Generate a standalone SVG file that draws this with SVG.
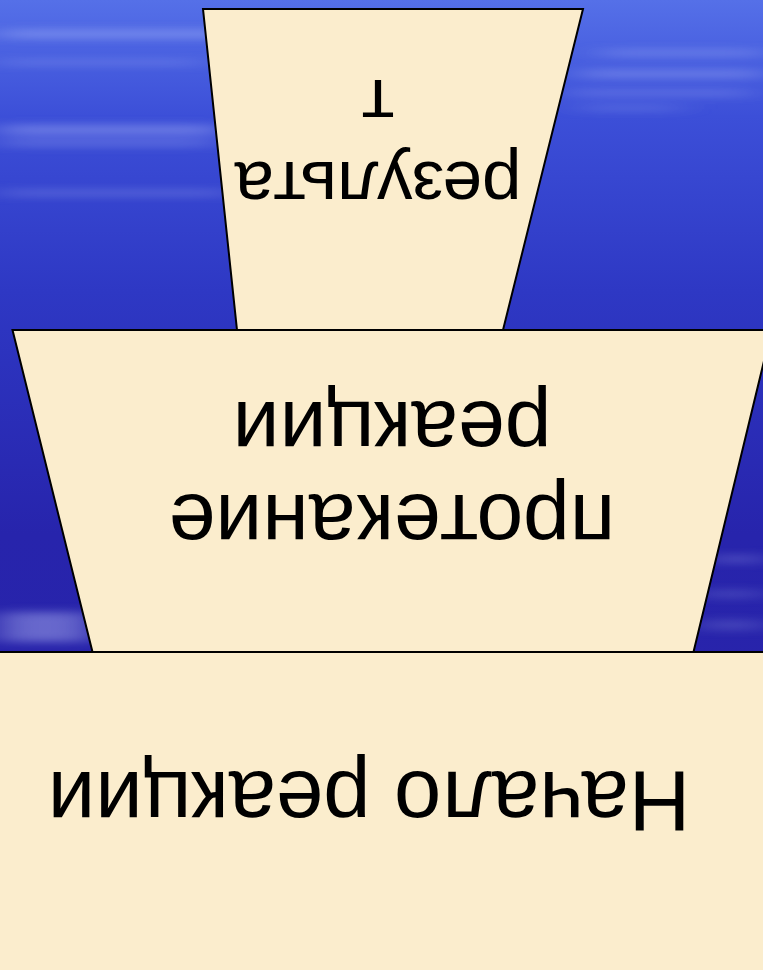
<svg xmlns="http://www.w3.org/2000/svg" width="763" height="970" viewBox="0 0 763 970">
<style>
.sh{fill:#FBEDCD;stroke:#000;stroke-width:2;stroke-linejoin:miter}
.t{font-family:"Liberation Sans",Arial,sans-serif;fill:#000;text-anchor:middle}
</style>
<defs>
<linearGradient id="bg" x1="0" y1="0" x2="0" y2="1">
<stop offset="0" stop-color="#5570e8"/>
<stop offset="0.12" stop-color="#3c4fd8"/>
<stop offset="0.3" stop-color="#2e38c4"/>
<stop offset="0.55" stop-color="#2724ac"/>
<stop offset="1" stop-color="#2a22a8"/>
</linearGradient>
<filter id="blur" x="-30%" y="-300%" width="160%" height="700%"><feGaussianBlur stdDeviation="18 4"/></filter>
</defs>
<rect x="0" y="0" width="763" height="970" fill="url(#bg)"/>
<g filter="url(#blur)" fill="#c8d0ff">
<rect x="0" y="30" width="360" height="8" opacity="0.35"/>
<rect x="600" y="50" width="163" height="6" opacity="0.3"/>
<rect x="0" y="60" width="200" height="5" opacity="0.25"/>
<rect x="580" y="70" width="183" height="8" opacity="0.3"/>
<rect x="0" y="125" width="220" height="10" opacity="0.35"/>
<rect x="0" y="140" width="215" height="6" opacity="0.3"/>
<rect x="570" y="90" width="180" height="6" opacity="0.25"/>
<rect x="0" y="190" width="230" height="6" opacity="0.25"/>
<rect x="580" y="105" width="100" height="6" opacity="0.2"/>
<rect x="0" y="612" width="90" height="30" opacity="0.4"/>
<rect x="710" y="555" width="53" height="8" opacity="0.25"/>
<rect x="700" y="590" width="63" height="8" opacity="0.2"/>
<rect x="700" y="620" width="63" height="10" opacity="0.2"/>
</g>
<g id="node-top">
<polygon class="sh" points="203,9 583,9 503,330 237,330"/>
<text class="t" font-size="71" transform="rotate(180 378 162)" x="378" y="162">результа</text>
<text class="t" font-size="71" transform="rotate(180 378 80)" x="378" y="80">т</text>
</g>
<g id="node-middle">
<polygon class="sh" points="12.5,330 771.5,330 693.5,652 92.5,652"/>
<text class="t" font-size="84" transform="rotate(180 392 402)" x="392" y="402">реакции</text>
<text class="t" font-size="84" transform="rotate(180 392 495)" x="392" y="495">протекание</text>
</g>
<g id="node-bottom">
<rect class="sh" x="-5" y="652" width="775" height="325"/>
<text class="t" font-size="85" transform="rotate(180 369 772)" x="369" y="772">Начало реакции</text>
</g>
<g id="connectors"/>
</svg>
